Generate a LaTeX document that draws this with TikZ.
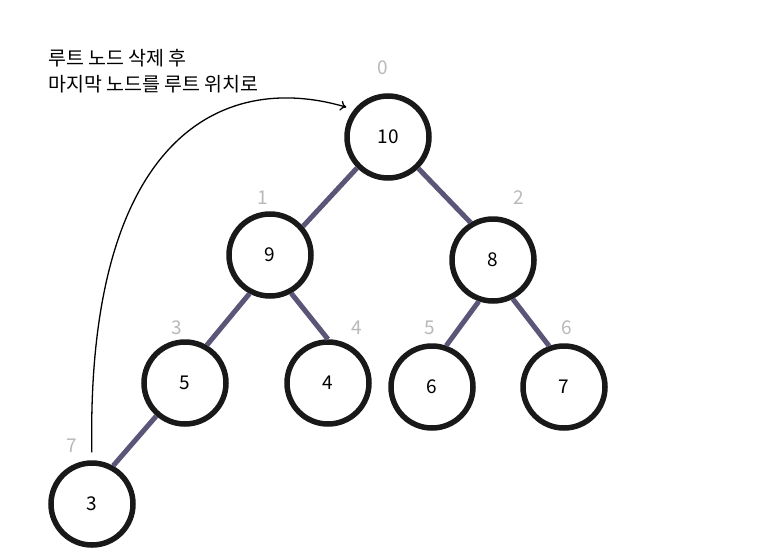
\documentclass[tikz,border=0pt]{standalone}
\usepackage{fontspec}
\setmainfont{Noto Sans CJK KR}
\newfontfamily\kr{Noto Sans CJK KR}
\usetikzlibrary{arrows.meta}
\definecolor{edgecol}{RGB}{92,85,120}
\definecolor{idxcol}{RGB}{185,185,185}
\tikzset{
  heapnode/.style={circle,draw=black!90,line width=5.5pt,minimum size=82pt,inner sep=0pt,font=\fontsize{19}{22}\selectfont},
  heapedge/.style={draw=edgecol,line width=5pt},
  idx/.style={text=idxcol,font=\fontsize{19}{22}\selectfont,inner sep=0pt},
  note/.style={font=\kr\fontsize{19.5}{26}\selectfont,align=left,inner sep=0pt,anchor=north west}
}
\begin{document}
\begin{tikzpicture}[x=1pt,y=-1pt]
\useasboundingbox[fill=white] (0,0) rectangle (759,554);
\node[heapnode] (n10) at (388,137) {10};
\node[heapnode] (n9) at (270,255) {9};
\node[heapnode] (n8) at (493,260) {8};
\node[heapnode] (n5) at (185,383) {5};
\node[heapnode] (n4) at (328,383) {4};
\node[heapnode] (n6) at (432,387) {6};
\node[heapnode] (n7) at (564,387) {7};
\node[heapnode] (n3) at (92,504) {3};
\draw[heapedge] (n10.225) -- (n9.41);
\draw[heapedge] (n10.-46) -- (n8.121);
\draw[heapedge] (n9.-118) -- (n5.60);
\draw[heapedge] (n9.-61) -- (n4.90);
\draw[heapedge] (n8.-109) -- (n6.71);
\draw[heapedge] (n8.-63) -- (n7.110);
\draw[heapedge] (n5.229) -- (n3.61);
\node[idx] (i0) at (383,68) {0};
\node[idx] (i1) at (263,198) {1};
\node[idx] (i2) at (519,198) {2};
\node[idx] (i3) at (177,328) {3};
\node[idx] (i4) at (357,328) {4};
\node[idx] (i5) at (430,328) {5};
\node[idx] (i6) at (567,328) {6};
\node[idx] (i7) at (72,446) {7};
\node[note] (t) at (48,49) {루트 노드 삭제 후\\마지막 노드를 루트 위치로};
\draw[line width=1.3pt,-{To[length=6pt,width=10pt]},shorten <=8pt,shorten >=8pt]
  (n3.north) .. controls (86,140) and (220,70) .. (n10.141);
\end{tikzpicture}
\end{document}
